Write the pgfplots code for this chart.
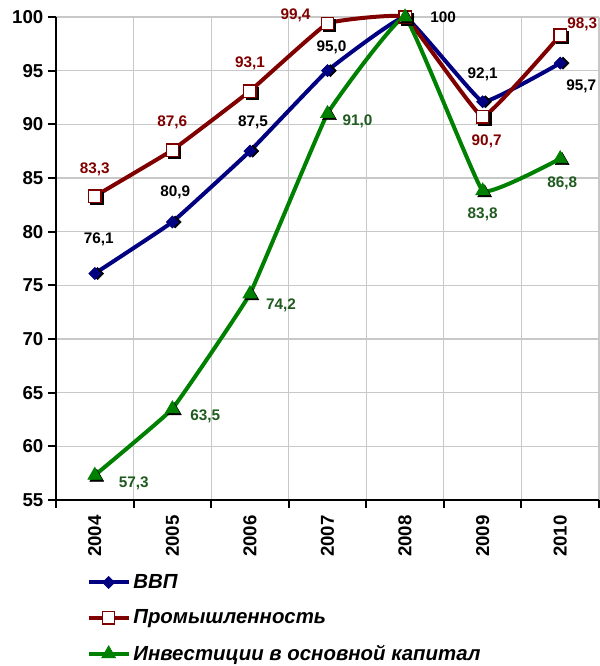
\documentclass[border=0pt]{standalone}
\usepackage{fontspec}
\setmainfont{Liberation Sans}
\usepackage{pgfplots}
\pgfplotsset{compat=1.18}
\usepackage{pgfplotstable}
\definecolor{cBlue}{HTML}{000080}
\definecolor{cRed}{HTML}{800000}
\definecolor{cGreen}{HTML}{008000}
\definecolor{cGreenLab}{HTML}{1F5A1F}
\definecolor{cGrid}{HTML}{C8C8C8}

\pgfplotstableread{
x y
0 76.1
1 80.9
2 87.5
3 95.0
4 100
5 92.1
6 95.7
}\gdp
\pgfplotstableread{
x y
0 83.3
1 87.6
2 93.1
3 99.4
4 100
5 90.7
6 98.3
}\ind
\pgfplotstableread{
x y
0 57.3
1 63.5
2 74.2
3 91.0
4 100
5 83.8
6 86.8
}\inv
\pgfplotstableread{
x y lab dx dy
0 76.1 76,1 3 25.5
1 80.9 80,9 2.25 22.5
2 87.5 87,5 2.25 21.75
3 95.0 95,0 3 17.25
4 100 100 28.5 0
5 92.1 92,1 0 20.25
6 95.7 95,7 15.75 -17.25
}\gdplab
\pgfplotstableread{
x y lab dx dy
0 83.3 83,3 0 20.25
1 87.6 87,6 0 21
2 93.1 93,1 0 21
3 99.4 99,4 -24 6
5 90.7 90,7 3 -18.75
6 98.3 98,3 16.5 8.25
}\indlab
\pgfplotstableread{
x y lab dx dy
0 57.3 57,3 29.25 -6
1 63.5 63,5 24.75 -6
2 74.2 74,2 23.25 -8.25
3 91.0 91,0 22.5 -6
5 83.8 83,8 0 -17.25
6 86.8 86,8 1.5 -18.75
}\invlab

\begin{document}
\begin{tikzpicture}
\begin{axis}[
  scale only axis,
  width=407.25pt, height=362.25pt,
  xmin=-0.5, xmax=6.5, ymin=55, ymax=100,
  clip=false,
  axis x line*=bottom, axis y line*=left,
  axis line style={-, line width=1.6pt, black},
  ytick={55,60,...,100},
  xtick={-0.5,0.5,...,6.5},
  xticklabels={},
  extra x ticks={0,1,2,3,4,5,6},
  extra x tick labels={2004,2005,2006,2007,2008,2009,2010},
  extra x tick style={major tick length=0pt, grid=none,
     xticklabel style={rotate=90, anchor=east, xshift=-8pt}},
  xmajorgrids, ymajorgrids,
  grid style={cGrid, line width=0.8pt},
  tick align=outside,
  major tick length=6pt,
  tick style={black, line width=1.4pt},
  ticklabel style={font=\bfseries\fontsize{14}{16}\selectfont},
  /pgf/number format/assume math mode=true,
  legend cell align=left,
  legend style={draw=none, fill=none,
     at={(axis description cs:0.056,-0.148)}, anchor=north west,
     font=\bfseries\itshape\fontsize{15.3}{18}\selectfont,
     row sep=10.5pt, inner sep=0pt},
  legend image code/.code={
     \draw[#1, mark repeat=2, mark phase=2] plot coordinates {(0pt,0pt) (15pt,0pt) (30pt,0pt)};
  },
]
% GDP
\addplot[forget plot, only marks, black, mark=square*, mark size=3.2pt,
  mark options={rotate=45, xshift=1.5pt, yshift=-1.5pt}] table[x=x,y=y] {\gdp};
\addplot[cBlue, line width=3pt, smooth, tension=0.15, mark=square*, mark size=3.2pt,
  mark options={rotate=45, fill=cBlue, line width=0.5pt, solid}] table[x=x,y=y] {\gdp};
\addlegendentry{ВВП}
% Industry
\addplot[forget plot, only marks, black, mark=square*, mark size=4.6pt,
  mark options={xshift=1.5pt, yshift=-1.5pt}] table[x=x,y=y] {\ind};
\addplot[cRed, line width=3pt, smooth, tension=0.15, mark=square*, mark size=4.6pt,
  mark options={fill=white, draw=cRed, line width=1pt, solid}] table[x=x,y=y] {\ind};
\addlegendentry{Промышленность}
% Investment
\addplot[forget plot, only marks, black, mark=triangle*, mark size=6pt,
  mark options={xshift=1.5pt, yshift=-1.5pt}] table[x=x,y=y] {\inv};
\addplot[cGreen, line width=3pt, smooth, tension=0.15, mark=triangle*, mark size=6pt,
  mark options={fill=cGreen, line width=0.5pt, solid}] table[x=x,y=y] {\inv};
\addlegendentry{Инвестиции в основной капитал}
% Labels
\addplot[forget plot, draw=none, mark=none, nodes near coords, point meta=explicit symbolic,
  visualization depends on={\thisrow{dx} \as \dx},
  visualization depends on={\thisrow{dy} \as \dy},
  every node near coord/.append style={anchor=center, xshift=\dx pt, yshift=\dy pt,
    font=\bfseries\fontsize{11.5}{13}\selectfont, text=black, inner sep=0pt}]
  table[x=x,y=y,meta=lab] {\gdplab};
\addplot[forget plot, draw=none, mark=none, nodes near coords, point meta=explicit symbolic,
  visualization depends on={\thisrow{dx} \as \dx},
  visualization depends on={\thisrow{dy} \as \dy},
  every node near coord/.append style={anchor=center, xshift=\dx pt, yshift=\dy pt,
    font=\bfseries\fontsize{11.5}{13}\selectfont, text=cRed, inner sep=0pt}]
  table[x=x,y=y,meta=lab] {\indlab};
\addplot[forget plot, draw=none, mark=none, nodes near coords, point meta=explicit symbolic,
  visualization depends on={\thisrow{dx} \as \dx},
  visualization depends on={\thisrow{dy} \as \dy},
  every node near coord/.append style={anchor=center, xshift=\dx pt, yshift=\dy pt,
    font=\bfseries\fontsize{11.5}{13}\selectfont, text=cGreenLab, inner sep=0pt}]
  table[x=x,y=y,meta=lab] {\invlab};
\end{axis}
\pgfresetboundingbox
\path[use as bounding box] (current axis.south west) ++(-42pt,-124.5pt) rectangle ++(449.25pt,499.5pt);
\end{tikzpicture}
\end{document}
